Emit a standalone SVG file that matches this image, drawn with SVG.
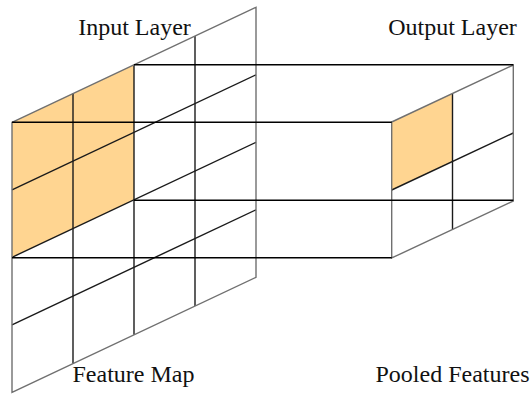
<svg xmlns="http://www.w3.org/2000/svg" width="531" height="394" viewBox="0 0 531 394">
  <style>
    .bg { fill: #ffffff; }
    .hl { fill: #ffd591; stroke: none; }
    .grid { stroke: #1a1a1a; stroke-width: 1.4; fill: none; }
    .edge { stroke: #707070; stroke-width: 1.4; fill: none; stroke-linejoin: miter; }
    .conn { stroke: #000000; stroke-width: 1.5; fill: none; }
    .lbl { font-family: "Liberation Serif", "Times New Roman", serif; font-size: 24px; fill: #111111; text-anchor: middle; }
  </style>
  <rect class="bg" x="0" y="0" width="531" height="394"/>

  <g id="input-layer">
    <polygon class="hl" points="12,122.3 134,64.8 134,199.8 12,257.3"/>
    <!-- interior vertical lines -->
    <line class="grid" x1="73" y1="93.5" x2="73" y2="363.5"/>
    <line class="grid" x1="134" y1="64.8" x2="134" y2="334.8"/>
    <line class="grid" x1="195" y1="36" x2="195" y2="306"/>
    <!-- interior row lines -->
    <line class="grid" x1="12" y1="189.8" x2="256" y2="74.8"/>
    <line class="grid" x1="12" y1="257.3" x2="256" y2="142.3"/>
    <line class="grid" x1="12" y1="324.8" x2="256" y2="209.8"/>
    <!-- outer border -->
    <polygon class="edge" points="12,122.3 256,7.3 256,277.3 12,392.3"/>
  </g>

  <g id="output-layer">
    <polygon class="hl" points="391.7,122 452.5,93.5 452.5,161.5 391.7,190"/>
    <line class="grid" x1="452.5" y1="93.5" x2="452.5" y2="229.5"/>
    <line class="grid" x1="391.7" y1="190" x2="513.3" y2="133"/>
    <polygon class="edge" points="391.7,122 513.3,65 513.3,201 391.7,258"/>
  </g>

  <g id="connectors">
    <line class="conn" x1="12" y1="122.3" x2="391.7" y2="122.3"/>
    <line class="conn" x1="134" y1="64.8" x2="513.3" y2="64.8"/>
    <line class="conn" x1="134" y1="200.3" x2="513.3" y2="200.3"/>
    <line class="conn" x1="12" y1="257.8" x2="391.7" y2="257.8"/>
  </g>

  <g id="labels">
    <text class="lbl" x="134.5" y="35">Input Layer</text>
    <text class="lbl" x="452.5" y="35">Output Layer</text>
    <text class="lbl" x="133.5" y="382">Feature Map</text>
    <text class="lbl" x="452.5" y="382">Pooled Features</text>
  </g>
</svg>
